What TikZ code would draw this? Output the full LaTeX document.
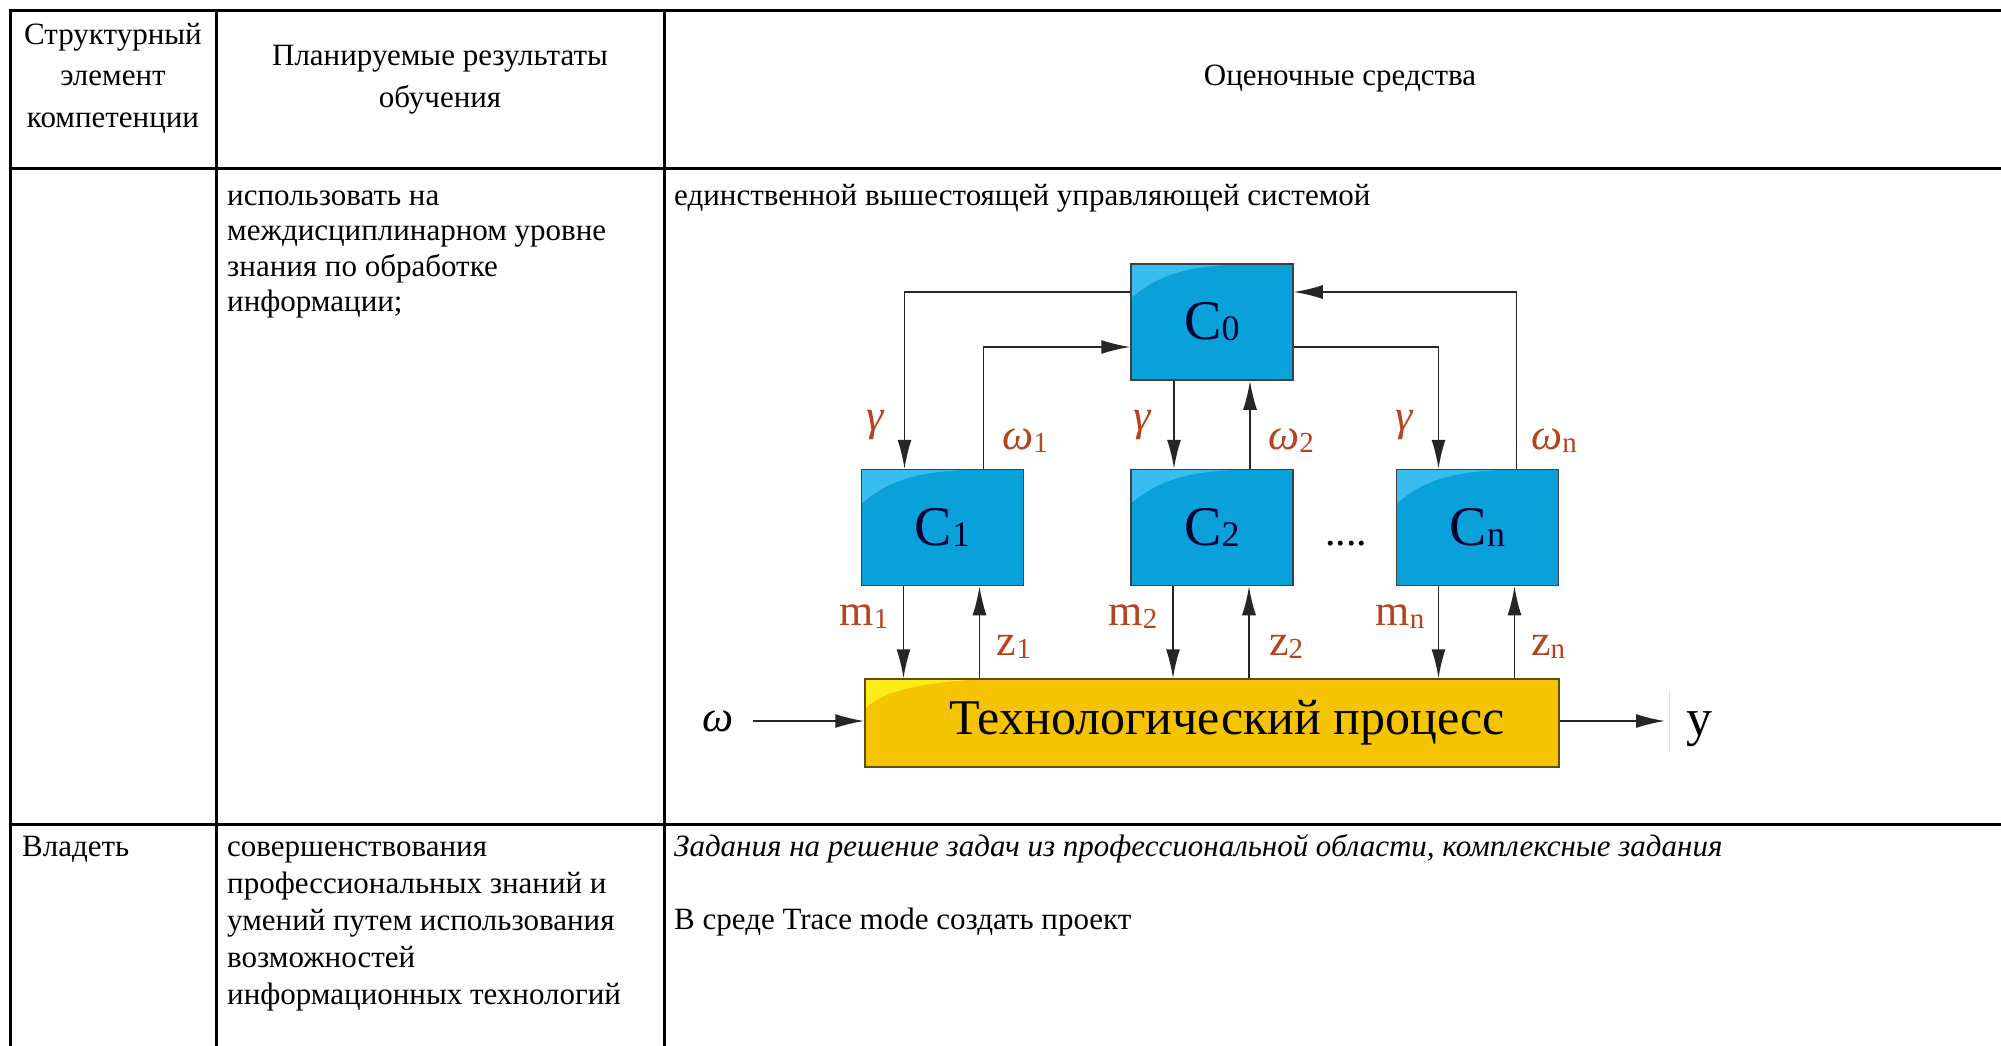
\documentclass[tikz,border=0pt]{standalone}
\usepackage{fontspec}
\setmainfont{Liberation Serif}
\usetikzlibrary{arrows.meta,positioning}
\definecolor{boxblue}{HTML}{0AA0DA}
\definecolor{boxgloss}{HTML}{38BDEE}
\definecolor{procgold}{HTML}{F5C400}
\definecolor{procgloss}{HTML}{FFEA1A}
\definecolor{labred}{HTML}{B5441E}
\tikzset{
    cell/.style={inner sep=0, anchor=base west, align=left, font=\fontsize{31}{36}\selectfont},
    cellit/.style={cell, font=\fontsize{31}{36}\selectfont\itshape},
    head/.style={inner sep=0, anchor=base, align=center, font=\fontsize{31}{41.5}\selectfont},
    ctrl/.style={draw=black!75, line width=1.5pt, fill=boxblue, minimum width=162pt,
        minimum height=116pt, inner sep=0, text=black!80!blue, font=\fontsize{56}{56}\selectfont,
        path picture={\fill[boxgloss] ([yshift=-34pt]path picture bounding box.north west)
            .. controls +(30pt,26pt) and +(-50pt,-2pt) .. ([xshift=112pt]path picture bounding box.north west)
            -- (path picture bounding box.north west) -- cycle;}},
    proc/.style={draw=black!60!procgold, line width=1.5pt, fill=procgold, minimum width=694pt,
        minimum height=88pt, inner sep=0, font=\fontsize{50}{50}\selectfont,
        path picture={\fill[procgloss] ([yshift=-30pt]path picture bounding box.north west)
            .. controls +(20pt,22pt) and +(-50pt,-2pt) .. ([xshift=125pt]path picture bounding box.north west)
            -- (path picture bounding box.north west) -- cycle;}},
    arr/.style={-{Latex[length=29pt,width=14pt]}, line width=1.7pt, black!85},
    lab/.style={inner sep=0, anchor=base, text=labred, font=\fontsize{44}{44}\selectfont},
    labit/.style={lab, font=\fontsize{44}{44}\selectfont\itshape}
}
\newcommand{\lsub}[1]{\raisebox{-3pt}{\fontsize{29}{29}\selectfont\upshape #1}}
\newcommand{\csub}[1]{\raisebox{-1pt}{\fontsize{36}{36}\selectfont #1}}
\newcommand{\Grid}{
    \draw[line width=3pt] (9,10.5) -- (2010,10.5);
    \draw[line width=3pt] (9,168) -- (2010,168);
    \draw[line width=3pt] (9,824) -- (2010,824);
    \draw[line width=3pt] (10.5,9) -- (10.5,1050);
    \draw[line width=3pt] (216,9) -- (216,1050);
    \draw[line width=3pt] (664,9) -- (664,1050);
}
\begin{document}
\begin{tikzpicture}[x=1pt,y=-1pt]
    \useasboundingbox[fill=white] (0,0) rectangle (2001,1045);
    \Grid

    \node[head] (hstruct) at (113,127) {Структурный\\элемент\\компетенции};
    \node[head] (hplan) at (440,107) {Планируемые результаты\\обучения};
    \node[head] (htools) at (1340,85) {Оценочные средства};

    \node[cell, font=\fontsize{31}{35.5}\selectfont] (r2plan) at (227,311.5) {использовать на\\междисциплинарном уровне\\знания по обработке\\информации;};
    \node[cell] (r2tools) at (674,205) {единственной вышестоящей управляющей системой};

    \node[cell] (r3struct) at (22,856) {Владеть};
    \node[cell, font=\fontsize{31}{37}\selectfont] (r3plan) at (227,1004) {совершенствования\\профессиональных знаний и\\умений путем использования\\возможностей\\информационных технологий};
    \node[cellit] (r3task) at (674,856) {Задания на решение задач из профессиональной области, комплексные задания};
    \node[cell] (r3proj) at (674,929) {В среде Trace mode создать проект};

    \node[ctrl] (c0) at (1212,322) {C\csub{0}};
    \node[ctrl, below=88pt of c0] (c2) {C\csub{2}};
    \node[ctrl, left=106pt of c2] (c1) {C\csub{1}};
    \node[ctrl, right=102pt of c2] (cn) {C\csub{n}};
    \node[proc, below=92pt of c2] (tp) {\hspace{30pt}Технологический процесс};
    \node[inner sep=0, anchor=base, font=\fontsize{42}{42}\selectfont] (dots) at (1346,545) {....};

    \draw[arr] ([yshift=30pt]c0.west) -| ([xshift=-38pt]c1.north);
    \draw[arr] ([xshift=41pt]c1.north) |- ([yshift=-25pt]c0.west);
    \draw[arr] ([xshift=-38pt]c0.south) -- ([xshift=-38pt]c2.north);
    \draw[arr] ([xshift=38pt]c2.north) -- ([xshift=38pt]c0.south);
    \draw[arr] ([yshift=-25pt]c0.east) -| ([xshift=-39pt]cn.north);
    \draw[arr] ([xshift=39pt]cn.north) |- ([yshift=30pt]c0.east);

    \foreach \c in {c1,c2,cn} {
        \draw[arr] ([xshift=-39pt]\c.south) -- ([xshift=-39pt]\c.south |- tp.north);
        \draw[arr] ([xshift=37pt]\c.south |- tp.north) -- ([xshift=37pt]\c.south);
    }

    \node[labit] (g1) at (875,430) {γ};
    \node[labit] (g2) at (1142,430) {γ};
    \node[labit] (gn) at (1404,430) {γ};
    \node[labit] (w1) at (1025,449) {ω\lsub{1}};
    \node[labit] (w2) at (1291,449) {ω\lsub{2}};
    \node[labit] (wn) at (1554,449) {ω\lsub{n}};
    \node[lab] (m1) at (864,625) {m\lsub{1}};
    \node[lab] (m2) at (1133,625) {m\lsub{2}};
    \node[lab] (mn) at (1400,625) {m\lsub{n}};
    \node[lab] (z1) at (1014,655) {z\lsub{1}};
    \node[lab] (z2) at (1286,655) {z\lsub{2}};
    \node[lab] (zn) at (1548,655) {z\lsub{n}};

    \node[inner sep=0, font=\fontsize{44}{44}\selectfont\itshape] (win) at (718,721) {ω};
    \coordinate (wstart) at (753,721);
    \draw[arr] (wstart) -- (wstart -| tp.west);
    \coordinate (yend) at (1665,721);
    \draw[arr] (tp.east |- yend) -- (yend);
    \draw[black!12, line width=1pt] (1669,690) -- (1669,752);
    \node[inner sep=0, anchor=base, font=\fontsize{52}{52}\selectfont] (yout) at (1699,735) {y};
\end{tikzpicture}
\end{document}
